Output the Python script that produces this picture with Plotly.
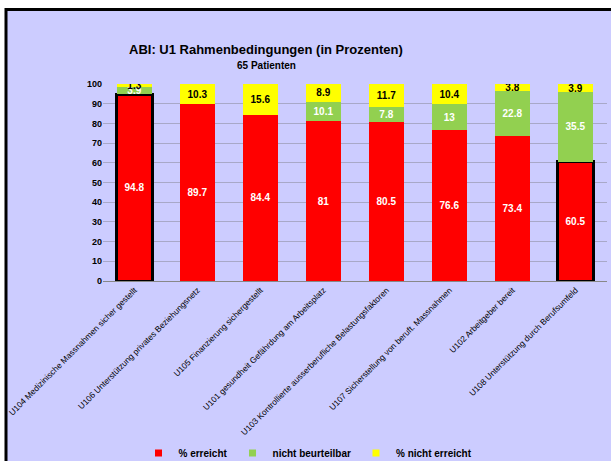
import plotly.graph_objects as go

categories = [
    "U104 Medizinische Massnahmen sicher gestellt",
    "U106 Unterstützung privates Beziehungsnetz",
    "U105 Finanzierung sichergestellt",
    "U101 gesundheit Gefährdung am Arbeitsplatz",
    "U103 Kontrollierte ausserberufliche Belastungsfaktoren",
    "U107 Sicherstellung von beruft. Massnahmen",
    "U102 Arbeitgeber bereit",
    "U108 Unterstützung durch Berufsumfeld",
]
erreicht = [94.8, 89.7, 84.4, 81, 80.5, 76.6, 73.4, 60.5]
nicht_beurteilbar = [3.9, 0, 0, 10.1, 7.8, 13, 22.8, 35.5]
nicht_erreicht = [1.3, 10.3, 15.6, 8.9, 11.7, 10.4, 3.8, 3.9]
highlight = [3, 0, 0, 0, 0, 0, 0, 3]

series_names = ["% erreicht", "nicht beurteilbar", "% nicht erreicht"]
series_colors = ["#FF0000", "#92D050", "#FFFF00"]

FONT = "Liberation Sans, Arial, sans-serif"
BG = "#CCCCFF"

fig = go.Figure()
fig.add_trace(go.Bar(
    x=categories, y=erreicht, name=series_names[0], showlegend=False,
    marker=dict(color=series_colors[0], line=dict(color="#000000", width=highlight)),
    text=[str(v) for v in erreicht], textposition="inside", insidetextanchor="middle",
    textfont=dict(color="white", size=10, family=FONT, weight="bold"),
))
fig.add_trace(go.Bar(
    x=categories, y=nicht_beurteilbar, name=series_names[1], showlegend=False,
    marker=dict(color=series_colors[1], line=dict(width=0)),
    text=[str(v) for v in nicht_beurteilbar], textposition="inside", insidetextanchor="middle",
    textfont=dict(color="white", size=10, family=FONT, weight="bold"),
))
fig.add_trace(go.Bar(
    x=categories, y=nicht_erreicht, name=series_names[2], showlegend=False,
    marker=dict(color=series_colors[2], line=dict(width=0)),
    text=[str(v) for v in nicht_erreicht], textposition="inside", insidetextanchor="middle",
    textfont=dict(color="black", size=10, family=FONT, weight="bold"),
))
# legend entries (small square swatches, no highlight border)
for nm, col in zip(series_names, series_colors):
    fig.add_trace(go.Scatter(x=[None], y=[None], name=nm, showlegend=True, mode="markers",
                             marker=dict(color=col, symbol="square", size=7, line=dict(width=0))))

L, R, T, B = 103, 4, 84, 180
W, H = 611, 461
pw, ph = W - L - R, H - T - B

def px_x(p):
    return (p - L) / pw

def px_y(p):
    return (H - B - p) / ph

fig.update_layout(
    width=W, height=H,
    margin=dict(l=L, r=R, t=T, b=B, autoexpand=False),
    barmode="stack", bargap=0.43,
    paper_bgcolor="white", plot_bgcolor=BG,
    font=dict(family=FONT, color="black"),
    uniformtext=dict(minsize=10, mode="show"),
    showlegend=True,
    legend=dict(orientation="h", x=px_x(308), xanchor="center", y=px_y(453), yanchor="middle",
                font=dict(size=10, family=FONT, weight="bold"), bgcolor="rgba(0,0,0,0)",
                itemwidth=30, traceorder="normal", tracegroupgap=0),
    xaxis=dict(tickangle=-45, tickfont=dict(size=8.4, family=FONT), showline=True,
               linecolor="#888888", linewidth=1, ticks="", automargin=False),
    yaxis=dict(range=[0, 100], dtick=10, tickfont=dict(size=9, family=FONT, weight="bold"),
               gridcolor="#A8A8C8", gridwidth=1, zeroline=False, ticks="", showline=False,
               automargin=False),
    shapes=[dict(type="rect", xref="paper", yref="paper",
                 x0=px_x(6), x1=px_x(640), y0=px_y(490), y1=px_y(9.5),
                 fillcolor=BG, line=dict(color="black", width=3), layer="below")],
    annotations=[
        dict(text="<b>ABI: U1 Rahmenbedingungen (in Prozenten)</b>", xref="paper", yref="paper",
             x=px_x(266), y=px_y(50), xanchor="center", yanchor="middle", showarrow=False,
             font=dict(size=13, family=FONT)),
        dict(text="<b>65 Patienten</b>", xref="paper", yref="paper",
             x=px_x(266), y=px_y(66), xanchor="center", yanchor="middle", showarrow=False,
             font=dict(size=10, family=FONT)),
    ],
)

fig.write_html("out.html", config={"displayModeBar": False},
               post_script="document.body.style.margin='0';")
